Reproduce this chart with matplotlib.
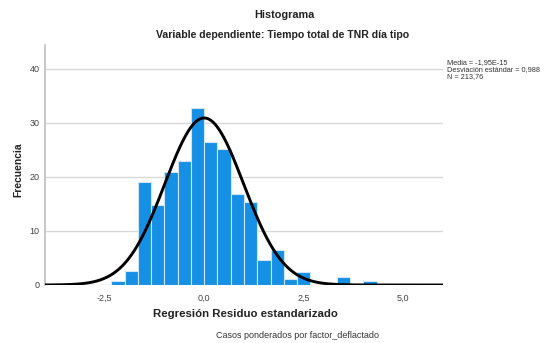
import numpy as np
import matplotlib
matplotlib.use("Agg")
import matplotlib.pyplot as plt

plt.rcParams['font.family'] = ['Liberation Sans', 'DejaVu Sans']

# Weighted frequencies of the standardized residuals, bins of width 1/3 from -7/3
bin_start = -7 / 3
bin_width = 1 / 3
frequencies = [0.8, 2.6, 19.0, 14.8, 20.9, 22.9, 32.8, 26.4, 25.2, 16.9,
               15.3, 4.6, 6.5, 1.2, 2.4, 0.0, 0.0, 1.4, 0.0, 0.7]

# Summary statistics of the residuals
media = -1.95e-15
desviacion = 0.988
n_total = 213.76
curve_peak = 30.9

x_ticks = [-2.5, 0.0, 2.5, 5.0]
x_tick_labels = ["-2,5", "0,0", "2,5", "5,0"]
y_ticks = [0, 10, 20, 30, 40]

fig = plt.figure(figsize=(5.46, 3.43), dpi=100)
ax = fig.add_axes([45 / 546, 58 / 343, 398 / 546, 240 / 343])

edges = bin_start + bin_width * np.arange(len(frequencies))
ax.bar(edges, frequencies, width=bin_width, align='edge',
       color='#1590e5', edgecolor='#cfe6f8', linewidth=0.8, zorder=2)

xs = np.linspace(-4, 6, 600)
ys = curve_peak * np.exp(-0.5 * ((xs - media) / desviacion) ** 2)
ax.plot(xs, ys, color='black', linewidth=2.1, zorder=3, solid_capstyle='butt')

ax.set_xlim(-4, 6)
ax.set_ylim(0, 44.4)
ax.set_xticks(x_ticks)
ax.set_xticklabels(x_tick_labels)
ax.set_yticks(y_ticks)
ax.tick_params(axis='both', length=0, labelsize=6.5, labelcolor='#444444')
ax.tick_params(axis='x', pad=6)
ax.tick_params(axis='y', pad=4)
ax.yaxis.grid(True, color='#d9d9d9', linewidth=1.0, zorder=0)
ax.set_axisbelow(True)
for side in ['top', 'right', 'bottom']:
    ax.spines[side].set_visible(False)
ax.spines['left'].set_color('#bdbdbd')
ax.spines['left'].set_linewidth(1.2)

fig.text(284 / 546, 1 - 15 / 343, "Histograma", ha='center', va='center',
         fontsize=7.8, fontweight='bold', color='#222222')
fig.text(283 / 546, 1 - 35 / 343, "Variable dependiente: Tiempo total de TNR día tipo",
         ha='center', va='center', fontsize=7.6, fontweight='bold', color='#222222')
fig.text(18 / 546, 1 - 170 / 343, "Frecuencia", rotation=90, ha='center', va='center',
         fontsize=7.4, fontweight='bold', color='#222222')
fig.text(245 / 546, 1 - 314 / 343, "Regresión Residuo estandarizado", ha='center',
         va='center', fontsize=8.2, fontweight='bold', color='#222222')
fig.text(298 / 546, 1 - 335 / 343, "Casos ponderados por factor_deflactado",
         ha='center', va='center', fontsize=6.5, color='#333333')

stats_lines = [
    "Media = -1,95E-15",
    "Desviación estándar = 0,988",
    "N = 213,76",
]
for i, line in enumerate(stats_lines):
    fig.text(447 / 546, 1 - (63 + 7 * i) / 343, line, ha='left', va='center',
             fontsize=5.3, color='#333333')

fig.savefig("out.png", dpi=100)
